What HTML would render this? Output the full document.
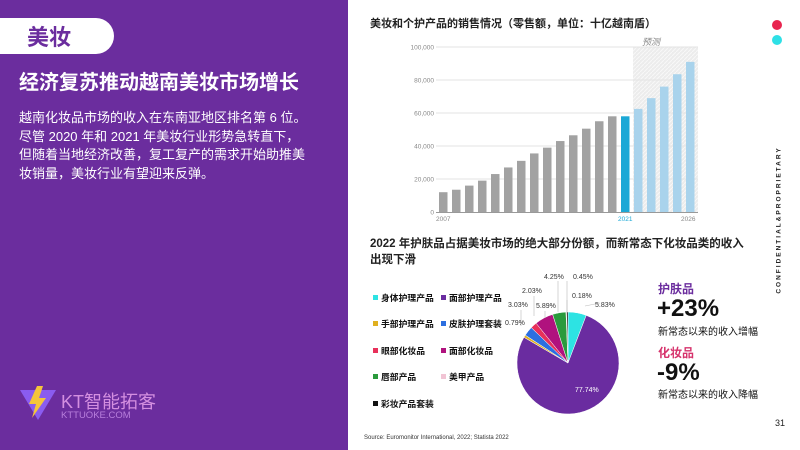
<!DOCTYPE html>
<html><head><meta charset="utf-8"><style>
body{margin:0;width:800px;height:450px;overflow:hidden;background:#fff;font-family:"Liberation Sans","Noto Sans CJK SC",sans-serif;position:relative}
.a{position:absolute;white-space:nowrap}
</style></head><body>
<div class="a" style="left:0;top:0;width:348px;height:450px;background:#6b2d9e"></div>
<div class="a" style="left:0;top:18px;width:114px;height:36px;background:#fff;border-radius:0 18px 18px 0"></div>
<div class="a" style="left:27px;top:20px;font-size:22px;font-weight:bold;color:#6b2d9e">美妆</div>
<div class="a" style="left:19px;top:66px;font-size:20px;font-weight:bold;color:#fff">经济复苏推动越南美妆市场增长</div>
<div class="a" style="left:19px;top:109px;font-size:13px;line-height:18.5px;color:#fff">越南化妆品市场的收入在东南亚地区排名第 6 位。<br>尽管 2020 年和 2021 年美妆行业形势急转直下，<br>但随着当地经济改善，复工复产的需求开始助推美<br>妆销量，美妆行业有望迎来反弹。</div>
<svg class="a" style="left:20px;top:386px" width="36" height="36" viewBox="0 0 36 36"><polygon points="0,4 36,4 18,34" fill="#8a5cf0"/><polygon points="17,0 9,18 16,18 12,32 26,12 19,12 23,0" fill="#f5c53b"/></svg>
<div class="a" style="left:61px;top:388px;font-size:18px;color:#d48fe0">KT智能拓客</div>
<div class="a" style="left:61px;top:410px;font-size:9.5px;color:#b87fdc">KTTUOKE.COM</div>

<div class="a" style="left:370px;top:15px;font-size:11px;font-weight:bold;color:#222">美妆和个护产品的销售情况（零售额，单位：十亿越南盾）</div>
<svg class="a" style="left:0;top:0" width="800" height="450" id="s">
<defs><pattern id="h" width="4" height="4" patternUnits="userSpaceOnUse"><rect width="4" height="4" fill="#ececec"/><path d="M0,4L4,0" stroke="#f8f8f8" stroke-width="1"/></pattern></defs>
<rect x="633" y="47" width="65" height="165" fill="url(#h)"/>
<text x="642" y="45" font-size="9" fill="#888" font-style="italic">预测</text>
<g id="bars"></g>
<g id="pie"></g>
<line x1="436" y1="212.5" x2="698" y2="212.5" stroke="#999"/>
</svg>

<div class="a" style="left:370px;top:236px;font-size:11.5px;font-weight:bold;color:#222;line-height:16px">2022 年护肤品占据美妆市场的绝大部分份额，而新常态下化妆品类的收入<br>出现下滑</div>
<div id="leg"></div>
<div class="a" style="left:658px;top:280px;font-size:12px;font-weight:bold;color:#6b2d9e">护肤品</div>
<div class="a" style="left:657px;top:295px;font-size:24px;font-weight:bold;color:#111">+23%</div>
<div class="a" style="left:658px;top:323px;font-size:10px;color:#111">新常态以来的收入增幅</div>
<div class="a" style="left:658px;top:344px;font-size:12px;font-weight:bold;color:#d6336c">化妆品</div>
<div class="a" style="left:657px;top:359px;font-size:24px;font-weight:bold;color:#111">-9%</div>
<div class="a" style="left:658px;top:386px;font-size:10px;color:#111">新常态以来的收入降幅</div>
<div class="a" style="left:364px;top:435px;font-size:6px;color:#333">Source: Euromonitor International, 2022; Statista 2022</div>
<div class="a" style="left:775px;top:418px;font-size:9px;color:#222">31</div>
<div class="a" style="left:772px;top:20px;width:10px;height:10px;border-radius:50%;background:#e8254f"></div>
<div class="a" style="left:772px;top:35px;width:10px;height:10px;border-radius:50%;background:#2ee0e6"></div>
<div class="a" style="left:779px;top:220px;transform:translate(-50%,-50%) rotate(-90deg);font-size:6.5px;letter-spacing:2px;color:#222;font-weight:bold">CONFIDENTIAL&amp;PROPRIETARY</div>
<script>
var ns="http://www.w3.org/2000/svg",s=document.getElementById('s');
function el(t,a,p,txt){var e=document.createElementNS(ns,t);for(var k in a)e.setAttribute(k,a[k]);if(txt)e.textContent=txt;p.appendChild(e);return e;}
var g=document.getElementById('bars');
for(var i=0;i<=5;i++){var y=212-i*33;if(i>0)el('line',{x1:436,y1:y,x2:698,y2:y,stroke:'#e3e3e3'},g);el('text',{x:434,y:y+2.5,'font-size':6.5,fill:'#888','text-anchor':'end'},g,i==0?'0':(i*20)+',000');}
var v=[12000,13500,16000,19000,23000,27000,31000,35500,39000,43000,46500,50500,55000,58000,58000,62500,69000,76000,83500,91000];
v.forEach(function(d,i){var h=d/20000*33,x=439+i*13;el('rect',{x:x,y:212-h,width:8.5,height:h,fill:i<14?'#a2a2a2':i==14?'#1ba8d6':'#a9d3ec'},g);});
el('text',{x:436,y:221,'font-size':6.5,fill:'#888'},g,'2007');
el('text',{x:618,y:221,'font-size':6.5,fill:'#1ba8d6'},g,'2021');
el('text',{x:681,y:221,'font-size':6.5,fill:'#888'},g,'2026');
var P=document.getElementById('pie'),cx=568,cy=363,r=51,a=0;
var sl=[[5.83,'#2de3e3'],[77.74,'#6a2ca0'],[0.79,'#e0b020'],[3.03,'#2c6fe0'],[2.03,'#e8305a'],[5.89,'#b0127e'],[4.25,'#2a9a3c'],[0.18,'#f1c4d4'],[0.45,'#111']];
sl.forEach(function(q){var b=a+q[0]/100.19*2*Math.PI;var x1=cx+r*Math.sin(a),y1=cy-r*Math.cos(a),x2=cx+r*Math.sin(b),y2=cy-r*Math.cos(b);
el('path',{d:'M'+cx+','+cy+'L'+x1+','+y1+'A'+r+','+r+' 0 '+((b-a)>Math.PI?1:0)+' 1 '+x2+','+y2+'Z',fill:q[1],stroke:'#fff','stroke-width':0.5},P);a=b;});
[['M558,281V312'],['M567,281V312'],['M534,296V316'],['M567,300V312'],['M521,310V326'],['M545,311V318'],['M585,306L600,303']].forEach(function(p){el('path',{d:p[0],stroke:'#bbb','stroke-width':0.6,fill:'none'},P);});
[['4.25%',544,279],['0.45%',573,279],['2.03%',522,293],['0.18%',572,298],['3.03%',508,307],['5.89%',536,308],['5.83%',595,307],['0.79%',505,325]].forEach(function(t){el('text',{x:t[1],y:t[2],'font-size':7,fill:'#333'},P,t[0]);});
el('text',{x:575,y:392,'font-size':7,fill:'#fff'},P,'77.74%');
var L=[['身体护理产品','#2de3e3',373,297],['面部护理产品','#6a2ca0',441,297],['手部护理产品','#e0b020',373,323],['皮肤护理套装','#2c6fe0',441,323],['眼部化妆品','#e8305a',373,350],['面部化妆品','#b0127e',441,350],['唇部产品','#2a9a3c',373,376],['美甲产品','#f1c4d4',441,376],['彩妆产品套装','#111',373,403]];
var lg=document.getElementById('leg');
L.forEach(function(l){var d=document.createElement('div');d.className='a';d.style.cssText='left:'+l[2]+'px;top:'+(l[3]-6)+'px;font-size:8.8px;color:#111;font-weight:bold';d.innerHTML='<span style="display:inline-block;width:5px;height:5px;background:'+l[1]+';margin-right:3px;vertical-align:1px"></span>'+l[0];lg.appendChild(d);});
</script>
</body></html>
